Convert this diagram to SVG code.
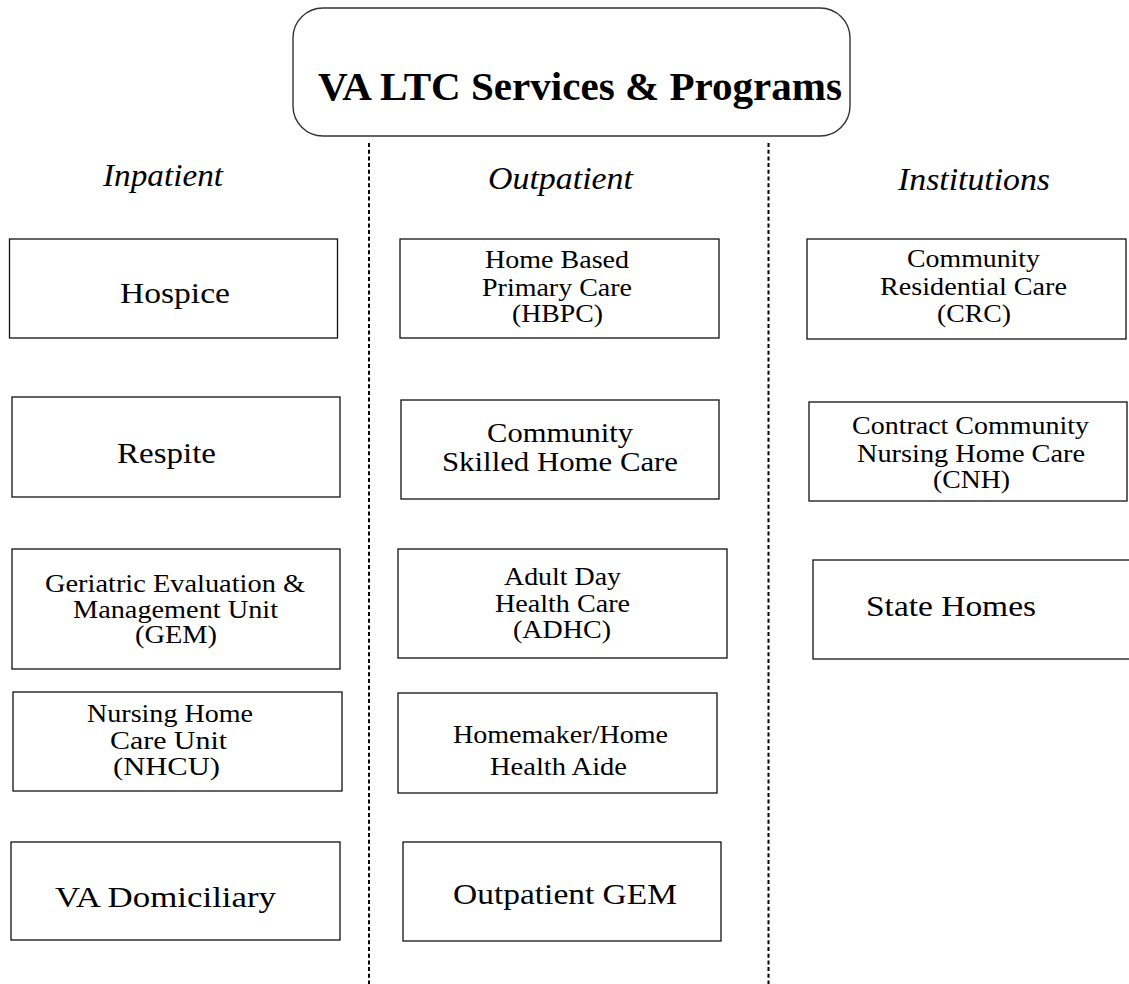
<svg xmlns="http://www.w3.org/2000/svg" width="1129" height="984" viewBox="0 0 1129 984">
<style>
.box{fill:#fff;stroke:#111;stroke-width:1.3}
.t{font-family:"Liberation Serif","Times New Roman",serif;fill:#000}
.m{font-size:25px}
.c{font-size:28px}
.s{font-size:30px}
.h{font-size:31px;font-style:italic}
.title{font-size:40px;font-weight:bold}
.div{stroke:#000;stroke-width:2;stroke-dasharray:4 2.7;fill:none}
</style>
<rect width="1129" height="984" fill="#fff"/>
<g id="connectors">
<line class="div" x1="369" y1="143" x2="369" y2="984"/>
<line class="div" x1="768.5" y1="143" x2="768.5" y2="984"/>
</g>
<g id="title">
<rect class="box" x="293" y="8" width="557" height="128" rx="30" ry="30" style="stroke:#333;stroke-width:1.4"/>
<text class="t title" x="318" y="100" textLength="524" lengthAdjust="spacingAndGlyphs">VA LTC Services &amp; Programs</text>
</g>
<g id="hdr-inpatient"><text class="t h" x="103" y="186" textLength="120" lengthAdjust="spacingAndGlyphs">Inpatient</text></g>
<g id="hdr-outpatient"><text class="t h" x="488" y="189" textLength="145" lengthAdjust="spacingAndGlyphs">Outpatient</text></g>
<g id="hdr-institutions"><text class="t h" x="898" y="190" textLength="152" lengthAdjust="spacingAndGlyphs">Institutions</text></g>

<g id="hospice">
<rect class="box" x="9.5" y="239" width="328" height="99"/>
<text class="t s" x="120" y="303" textLength="110" lengthAdjust="spacingAndGlyphs">Hospice</text>
</g>
<g id="respite">
<rect class="box" x="12" y="397" width="328" height="100"/>
<text class="t s" x="117" y="463" textLength="99" lengthAdjust="spacingAndGlyphs">Respite</text>
</g>
<g id="gem">
<rect class="box" x="12" y="549" width="328" height="120"/>
<text class="t m" x="45" y="592" textLength="260" lengthAdjust="spacingAndGlyphs">Geriatric Evaluation &amp;</text>
<text class="t m" x="73" y="618" textLength="205" lengthAdjust="spacingAndGlyphs">Management Unit</text>
<text class="t m" x="135" y="643" textLength="82" lengthAdjust="spacingAndGlyphs">(GEM)</text>
</g>
<g id="nhcu">
<rect class="box" x="13" y="692" width="329" height="99"/>
<text class="t m" x="87" y="722" textLength="166" lengthAdjust="spacingAndGlyphs">Nursing Home</text>
<text class="t m" x="110" y="749" textLength="117" lengthAdjust="spacingAndGlyphs">Care Unit</text>
<text class="t m" x="113" y="775" textLength="107" lengthAdjust="spacingAndGlyphs">(NHCU)</text>
</g>
<g id="va-domiciliary">
<rect class="box" x="11" y="842" width="329" height="98"/>
<text class="t s" x="55" y="907" textLength="221" lengthAdjust="spacingAndGlyphs">VA Domiciliary</text>
</g>

<g id="hbpc">
<rect class="box" x="400" y="239" width="319" height="99"/>
<text class="t m" x="485" y="268" textLength="144" lengthAdjust="spacingAndGlyphs">Home Based</text>
<text class="t m" x="482" y="296" textLength="150" lengthAdjust="spacingAndGlyphs">Primary Care</text>
<text class="t m" x="512" y="322" textLength="91" lengthAdjust="spacingAndGlyphs">(HBPC)</text>
</g>
<g id="community-skilled">
<rect class="box" x="401" y="400" width="318" height="99"/>
<text class="t c" x="487" y="442" textLength="146" lengthAdjust="spacingAndGlyphs">Community</text>
<text class="t c" x="442" y="471" textLength="236" lengthAdjust="spacingAndGlyphs">Skilled Home Care</text>
</g>
<g id="adhc">
<rect class="box" x="398" y="549" width="329" height="109"/>
<text class="t m" x="504" y="585" textLength="117" lengthAdjust="spacingAndGlyphs">Adult Day</text>
<text class="t m" x="495" y="612" textLength="135" lengthAdjust="spacingAndGlyphs">Health Care</text>
<text class="t m" x="513" y="638" textLength="98" lengthAdjust="spacingAndGlyphs">(ADHC)</text>
</g>
<g id="homemaker">
<rect class="box" x="398" y="693" width="319" height="100"/>
<text class="t m" x="453" y="743" textLength="215" lengthAdjust="spacingAndGlyphs">Homemaker/Home</text>
<text class="t m" x="490" y="775" textLength="137" lengthAdjust="spacingAndGlyphs">Health Aide</text>
</g>
<g id="outpatient-gem">
<rect class="box" x="403" y="842" width="318" height="99"/>
<text class="t s" x="453" y="904" textLength="224" lengthAdjust="spacingAndGlyphs">Outpatient GEM</text>
</g>

<g id="crc">
<rect class="box" x="807" y="239" width="319" height="100"/>
<text class="t m" x="907" y="267" textLength="133" lengthAdjust="spacingAndGlyphs">Community</text>
<text class="t m" x="880" y="295" textLength="187" lengthAdjust="spacingAndGlyphs">Residential Care</text>
<text class="t m" x="937" y="322" textLength="74" lengthAdjust="spacingAndGlyphs">(CRC)</text>
</g>
<g id="cnh">
<rect class="box" x="809" y="402" width="318" height="99"/>
<text class="t m" x="852" y="434" textLength="237" lengthAdjust="spacingAndGlyphs">Contract Community</text>
<text class="t m" x="857" y="462" textLength="228" lengthAdjust="spacingAndGlyphs">Nursing Home Care</text>
<text class="t m" x="933" y="488" textLength="77" lengthAdjust="spacingAndGlyphs">(CNH)</text>
</g>
<g id="state-homes">
<rect class="box" x="813" y="560" width="330" height="99"/>
<text class="t s" x="866" y="616" textLength="170" lengthAdjust="spacingAndGlyphs">State Homes</text>
</g>
</svg>
